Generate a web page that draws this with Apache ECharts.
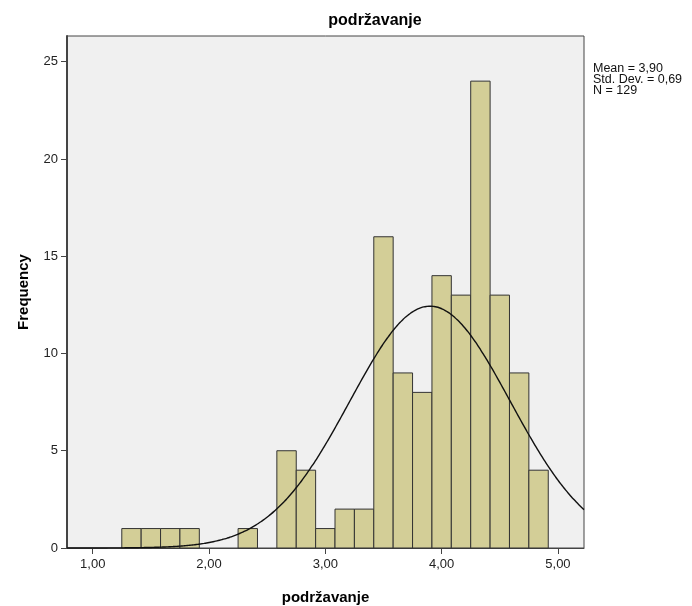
<!DOCTYPE html>
<html><head><meta charset="utf-8">
<script src="https://cdn.jsdelivr.net/npm/echarts@6/dist/echarts.min.js"></script>
<style>html,body{margin:0;padding:0;background:#fff}#c{width:692px;height:606px}</style>
</head><body><div id="c"></div>
<script>
// Histogram bins (start, end) and frequencies
const binStarts = [1.25, 1.4167, 1.5833, 1.75, 2.25, 2.5833, 2.75, 2.9167, 3.0833, 3.25, 3.4167, 3.5833, 3.75, 3.9167, 4.0833, 4.25, 4.4167, 4.5833, 4.75];
const binEnds   = [1.4167, 1.5833, 1.75, 1.9167, 2.4167, 2.75, 2.9167, 3.0833, 3.25, 3.4167, 3.5833, 3.75, 3.9167, 4.0833, 4.25, 4.4167, 4.5833, 4.75, 4.9167];
const counts    = [1, 1, 1, 1, 1, 5, 4, 1, 2, 2, 16, 9, 8, 14, 13, 24, 13, 9, 4];
const xTicks = [1, 2, 3, 4, 5];
const yTicks = [0, 5, 10, 15, 20, 25];
const statMean = 3.90, statSD = 0.69, statN = 129, binWidth = 1/6;
const statLines = ['Mean = 3,90', 'Std. Dev. = 0,69', 'N = 129'];

const xMin = 0.779, xMax = 5.224, yMax = 26.32;
const histData = counts.map((c, i) => [binStarts[i], binEnds[i], c]);
// Fitted normal curve from the reported mean, SD and N
const curve = [];
for (let i = 0; i <= 200; i++) {
  const x = xMin + (xMax - xMin) * i / 200;
  const z = (x - statMean) / statSD;
  curve.push([x, statN * binWidth / (statSD * Math.sqrt(2 * Math.PI)) * Math.exp(-0.5 * z * z)]);
}
const font = '"Liberation Sans", Arial, sans-serif';
const chart = echarts.init(document.getElementById('c'), null, {renderer: 'canvas'});
chart.setOption({
  animation: false,
  backgroundColor: '#fff',
  title: {text: 'podržavanje', left: 370, textAlign: 'center', top: 8,
    textStyle: {fontFamily: font, fontSize: 16, fontWeight: 'bold', color: '#000'}},
  grid: {left: 67, right: 108, top: 36, bottom: 58, containLabel: false, outerBoundsMode: 'none',
    show: true, backgroundColor: '#f0f0f0', borderColor: '#444', borderWidth: 1},
  xAxis: {type: 'value', min: xMin, max: xMax,
    name: 'podržavanje', nameLocation: 'middle', nameGap: 42,
    nameTextStyle: {fontFamily: font, fontSize: 15, fontWeight: 'bold', color: '#000'},
    axisLine: {lineStyle: {color: '#444', width: 1}},
    axisTick: {show: true, customValues: xTicks, length: 6, lineStyle: {color: '#444'}},
    axisLabel: {customValues: xTicks, formatter: v => v.toFixed(2).replace('.', ','), fontFamily: font, fontSize: 13, color: '#222', margin: 10},
    splitLine: {show: false}},
  yAxis: {type: 'value', min: 0, max: yMax,
    name: 'Frequency', nameLocation: 'middle', nameGap: 36, nameRotate: 90,
    nameTextStyle: {fontFamily: font, fontSize: 15, fontWeight: 'bold', color: '#000'},
    axisLine: {show: true, lineStyle: {color: '#444', width: 2}},
    axisTick: {show: true, customValues: yTicks, length: 6, lineStyle: {color: '#444'}},
    axisLabel: {customValues: yTicks, fontFamily: font, fontSize: 13, color: '#222', margin: 9},
    splitLine: {show: false}},
  series: [
    {type: 'custom', data: histData, encode: {x: [0, 1], y: 2},
     renderItem: function (params, api) {
       const p0 = api.coord([api.value(0), api.value(2)]);
       const p1 = api.coord([api.value(1), 0]);
       return {type: 'rect', shape: {x: p0[0], y: p0[1], width: p1[0] - p0[0], height: p1[1] - p0[1]},
         style: {fill: '#d3ce97', stroke: '#333', lineWidth: 1}};
     }},
    {type: 'line', data: curve, showSymbol: false, smooth: true, clip: true,
     lineStyle: {color: '#111', width: 1.4}, z: 5}
  ],
  graphic: statLines.map((t, i) => ({type: 'text', left: 593, top: 62 + i * 11,
    style: {text: t, font: '12.5px ' + font, fill: '#111'}}))
});
</script></body></html>
